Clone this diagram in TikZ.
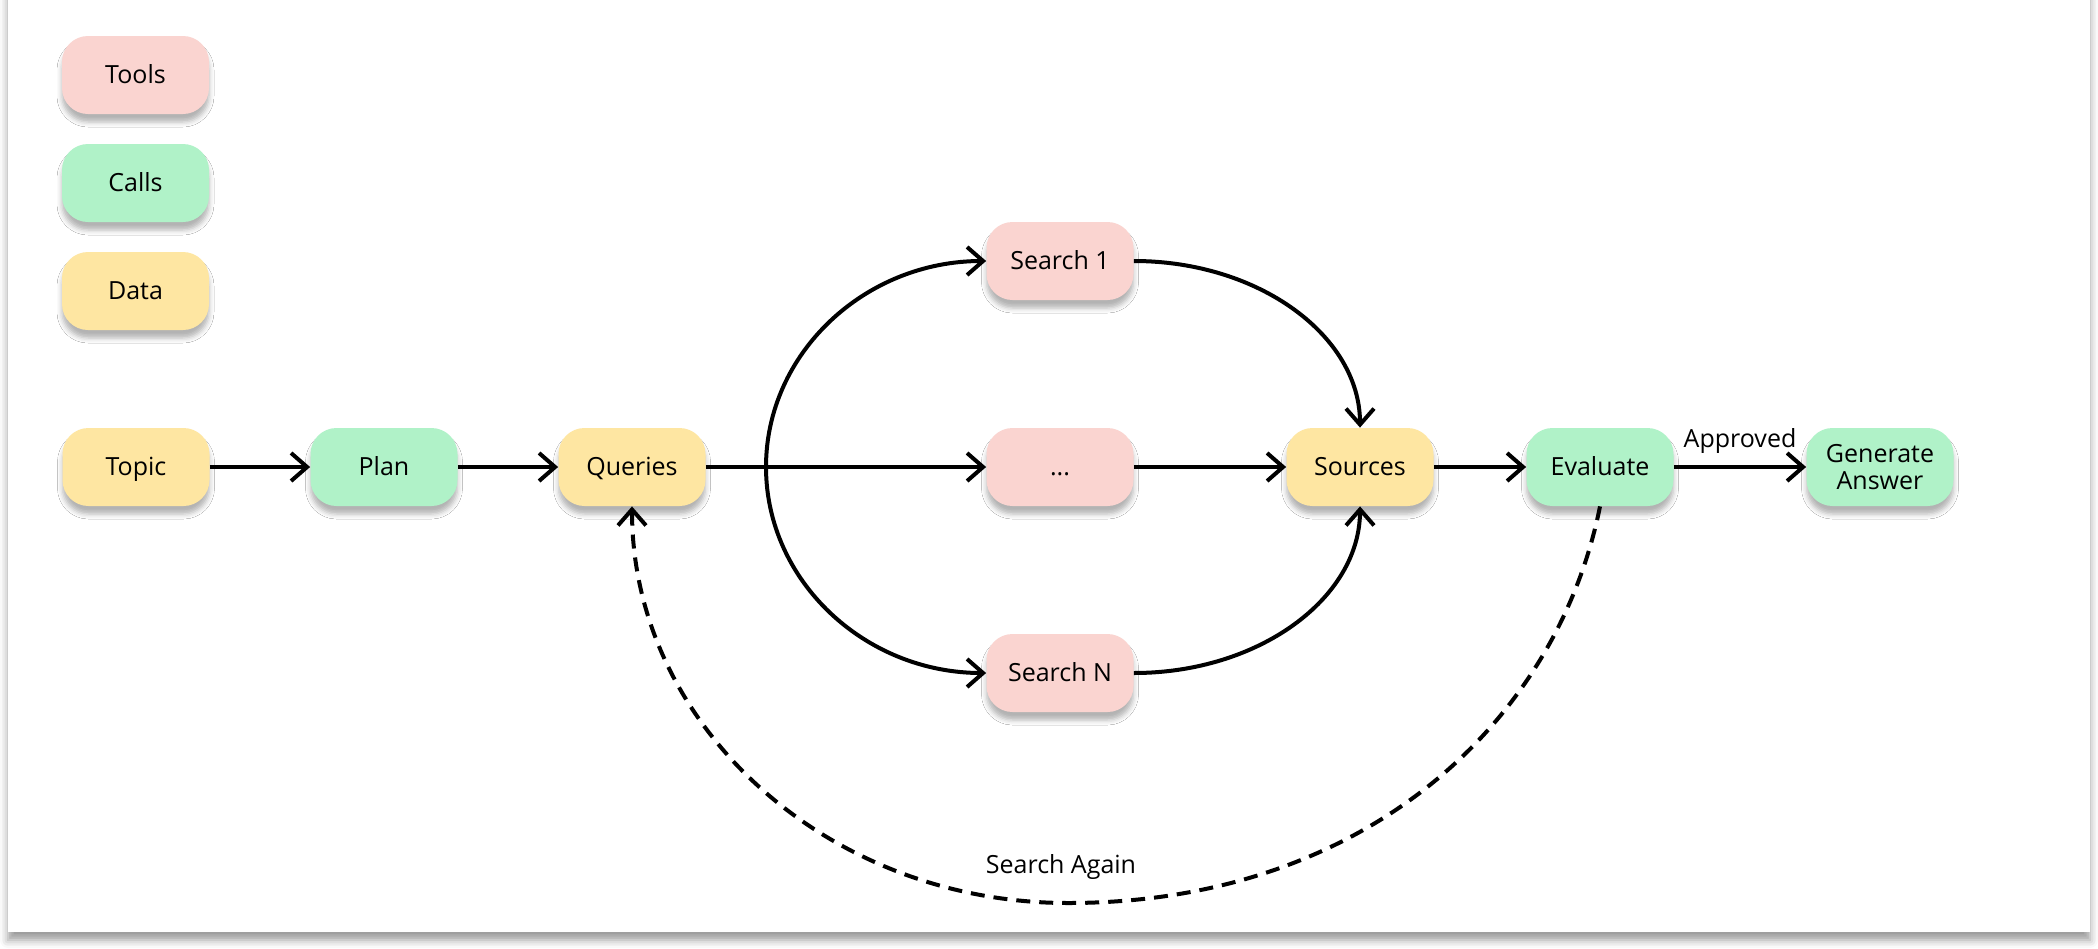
\documentclass[tikz,border=0pt]{standalone}
\usepackage{fontspec}
\setmainfont{Open Sans}
\usetikzlibrary{arrows.meta,shadows.blur}
\definecolor{toolc}{HTML}{FAD4D0}
\definecolor{callc}{HTML}{B0F2C8}
\definecolor{datac}{HTML}{FEE6A2}
\tikzset{
  box/.style={rounded corners=13pt, minimum width=73.5pt, minimum height=39pt,
    inner sep=0pt, align=center, font=\fontsize{12.5}{15}\selectfont,
    blur shadow={shadow xshift=0pt, shadow yshift=-4pt, shadow blur radius=2.5pt, shadow opacity=30}},
  oneline/.style={text height=1.7ex, text depth=0.2ex},
  toolbox/.style={box, oneline, fill=toolc},
  callbox/.style={box, oneline, fill=callc},
  databox/.style={box, oneline, fill=datac},
  callbox2/.style={box, fill=callc},
  lbl/.style={font=\fontsize{12.5}{15}\selectfont, inner sep=0pt},
  conn/.style={line width=2pt, -{Straight Barb[length=8pt,width=14pt]}},
  dashconn/.style={conn, dash pattern=on 7pt off 4.5pt},
}
\begin{document}
\begin{tikzpicture}[x=0.5pt,y=-0.5pt]
\useasboundingbox (0,0) rectangle (2098,948);
\fill[white, blur shadow={shadow xshift=0pt, shadow yshift=-4pt, shadow blur radius=4pt, shadow opacity=40}] (8,-30) rectangle (2090,932);

% legend
\node[toolbox] (tools) at (135.5,75) {Tools};
\node[callbox] (calls) at (135.5,183) {Calls};
\node[databox] (data) at (135.5,291) {Data};

% main row
\node[databox] (topic) at (136,467) {Topic};
\node[callbox] (plan) at (384,467) {Plan};
\node[databox] (queries) at (632,467) {Queries};
\node[toolbox] (dots) at (1060,467) {...};
\node[toolbox] (s1) at (1060,261) {Search 1};
\node[toolbox] (sn) at (1060,673) {Search N};
\node[databox] (sources) at (1360,467) {Sources};
\node[callbox] (eval) at (1600,467) {Evaluate};
\node[callbox2] (gen) at (1880,467) {Generate\\[-1.5pt]Answer};

\coordinate (br) at (766,467);
\coordinate (low) at (1068,903);

\draw[conn] (topic) -- (plan);
\draw[conn] (plan) -- (queries);
\draw[conn] (queries) -- (dots);
\draw[conn] (dots) -- (sources);
\draw[conn] (sources) -- (eval);
\draw[conn] (eval) -- node[lbl, anchor=base, yshift=10pt] {Approved} (gen);

\draw[conn] (br) .. controls (766,353) and (865,261) .. (s1.west);
\draw[conn] (br) .. controls (766,581) and (865,673) .. (sn.west);
\draw[conn] (s1.east) .. controls (1259,261) and (1360,336) .. (sources.north);
\draw[conn] (sn.east) .. controls (1259,673) and (1360,598) .. (sources.south);

\draw[dashconn] (eval.south) .. controls (1556,725) and (1362,903) .. (low)
  .. controls (827,903) and (632,725) .. (queries.south);
\node[lbl, anchor=base] (again) at (1061,873) {Search Again};
\end{tikzpicture}
\end{document}
